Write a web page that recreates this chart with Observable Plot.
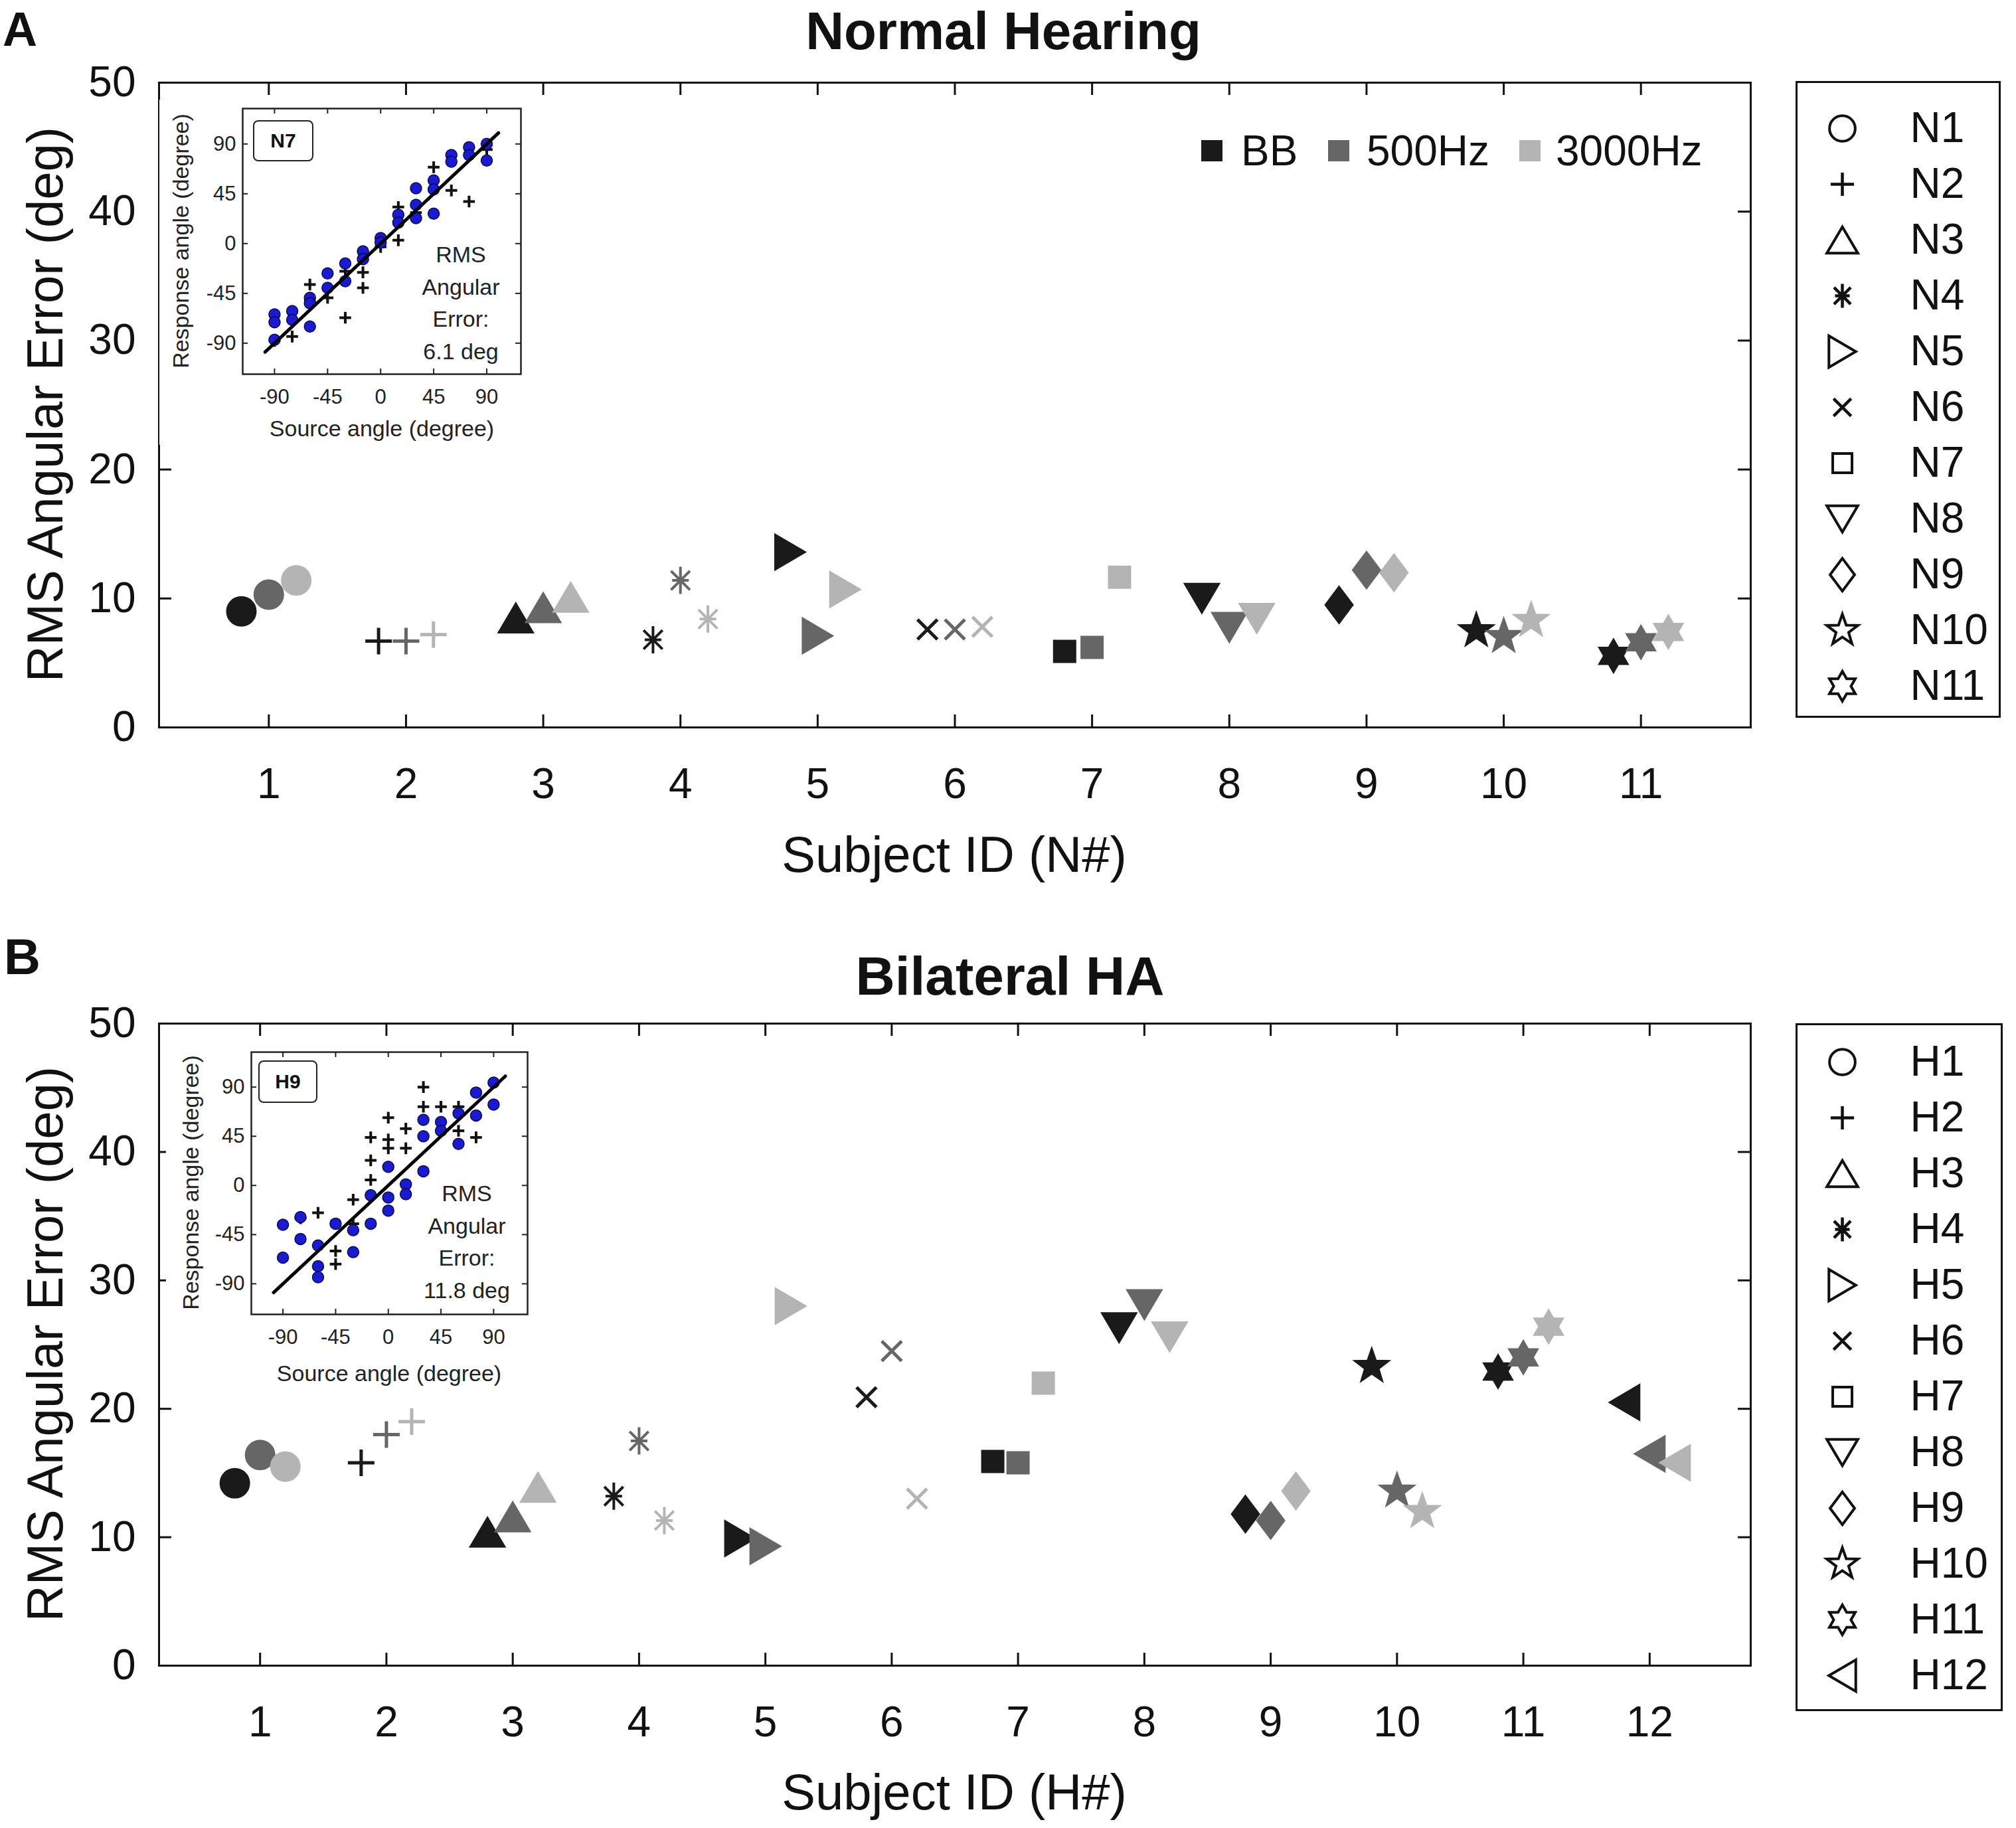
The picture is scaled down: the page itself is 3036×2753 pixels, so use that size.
<!DOCTYPE html>
<html><head><meta charset="utf-8">
<script src="https://cdn.jsdelivr.net/npm/d3@7"></script>
<script src="https://cdn.jsdelivr.net/npm/@observablehq/plot@0.6"></script>
<style>
html,body{margin:0;padding:0;background:#fff;}
#root{position:relative;width:3036px;height:2753px;overflow:hidden;background:#fff;font-family:"Liberation Sans",Arial,Helvetica,sans-serif;color:#111;}
</style></head><body><div id="root"></div>
<script>
// ---------- data ----------
const conditions = ["BB", "500Hz", "3000Hz"];
const conditionColors = ["#1a1a1a", "#666666", "#b4b4b4"];
const conditionOffsets = [-0.2, 0, 0.2];

const nhSubjects = ["N1","N2","N3","N4","N5","N6","N7","N8","N9","N10","N11"];
const nhBB    = [9.0, 6.7, 8.5, 6.8, 13.6, 7.6, 5.9, 10.0, 9.5, 7.5, 5.55];
const nh500   = [10.3, 6.7, 9.3, 11.4, 7.1, 7.6, 6.2, 7.75, 12.2, 7.05, 6.6];
const nh3000  = [11.4, 7.2, 10.1, 8.4, 10.7, 7.8, 11.65, 8.45, 12.0, 8.3, 7.4];

const haSubjects = ["H1","H2","H3","H4","H5","H6","H7","H8","H9","H10","H11","H12"];
const haBB    = [14.2, 15.8, 10.4, 13.2, 9.9, 20.9, 15.9, 26.3, 11.8, 23.3, 22.9, 20.5];
const ha500   = [16.4, 18.0, 11.6, 17.5, 9.3, 24.5, 15.8, 28.1, 11.3, 13.6, 24.0, 16.5];
const ha3000  = [15.5, 19.0, 13.9, 11.3, 28.0, 13.0, 22.0, 25.6, 13.6, 12.0, 26.4, 15.8];

const markerShapes = ["circle","plus","triangleUp","asterisk","triangleRight","times","square","triangleDown","diamond","pentagram","hexagram","triangleLeft"];
const yTicks = [0, 10, 20, 30, 40, 50];

// insets (source angle, response angle)
const insetTicks = [-90, -45, 0, 45, 90];
const diagSrc = [-98, 100];
const diagResp = [-98, 100];
const n7BlueSrc  = [-90,-90,-90,-75,-75,-60,-60,-60,-45,-45,-30,-30,-15,-15,0,0,15,15,30,30,30,45,45,45,60,60,75,75,90,90];
const n7BlueResp = [-64,-71,-87,-61,-69,-49,-54,-75,-27,-40,-18,-34,-7,-14,5,1,26,19,50,35,23,57,49,27,80,74,87,80,90,75];
const n7PlusSrc  = [-90,-75,-60,-60,-45,-30,-30,-15,-15,0,15,15,30,45,60,75,90];
const n7PlusResp = [-88,-84,-37,-52,-49,-67,-25,-40,-26,-3,3,33,28,69,48,38,85];
const h9BlueSrc  = [-90,-90,-75,-75,-60,-60,-60,-45,-30,-30,-15,-15,0,0,0,15,15,30,30,30,45,45,60,60,75,75,90,90];
const h9BlueResp = [-36,-66,-29,-49,-55,-74,-84,-35,-41,-61,-9,-35,17,-11,-23,1,-8,60,45,13,58,50,66,38,85,64,94,74];
const h9PlusSrc  = [30,0,-15,0,-15,-15,15,30,45,60,75,-60,-45,-45,-30,0,15,60,-75,-30];
const h9PlusResp = [90,62,44,42,23,5,52,72,72,72,44,-25,-60,-72,-13,34,34,50,-30,-35];

// ---------- helpers ----------
const root = document.getElementById("root");
const FONT = "Liberation Sans, Arial, Helvetica, sans-serif";
const plainNum = d => String(d);
function place(el, left, top) {
  el.style.position = "absolute"; el.style.left = left + "px"; el.style.top = top + "px";
  root.appendChild(el); return el;
}
function label(txt, x, y, {size = 64, weight = "normal", anchor = "middle", rotate = 0, color = "#111"} = {}) {
  const d = document.createElement("div");
  d.textContent = txt;
  Object.assign(d.style, {position: "absolute", left: x + "px", top: y + "px", fontSize: size + "px",
    fontWeight: weight, lineHeight: "1", whiteSpace: "nowrap", color, fontFamily: FONT});
  const tx = anchor === "middle" ? "-50%" : anchor === "end" ? "-100%" : "0";
  d.style.transform = `translate(${tx},-50%)` + (rotate ? ` rotate(${rotate}deg)` : "");
  root.appendChild(d); return d;
}
function poly(pts) {
  return {draw(ctx, size) {
    const u = Math.sqrt(size / Math.PI);
    ctx.moveTo(pts[0][0] * u, pts[0][1] * u);
    for (let i = 1; i < pts.length; i++) ctx.lineTo(pts[i][0] * u, pts[i][1] * u);
    ctx.closePath();
  }};
}
function segs(list) {
  return {draw(ctx, size) {
    const u = Math.sqrt(size / Math.PI);
    for (const [a, b, c, d] of list) { ctx.moveTo(a * u, b * u); ctx.lineTo(c * u, d * u); }
  }};
}
function star(n, outer, inner) {
  const pts = [];
  for (let k = 0; k < 2 * n; k++) {
    const a = -Math.PI / 2 + k * Math.PI / n, r = k % 2 ? inner : outer;
    pts.push([r * Math.cos(a), r * Math.sin(a)]);
  }
  return poly(pts);
}
const d45 = 0.57;
const shapeDefs = {
  circle: {draw(ctx, size) { const r = 0.88 * Math.sqrt(size / Math.PI); ctx.moveTo(r, 0); ctx.arc(0, 0, r, 0, 2 * Math.PI); }},
  square: poly([[-0.66,-0.66],[0.66,-0.66],[0.66,0.66],[-0.66,0.66]]),
  triangleUp: poly([[0,-0.9],[1.06,0.9],[-1.06,0.9]]),
  triangleDown: poly([[0,0.9],[1.06,-0.9],[-1.06,-0.9]]),
  triangleRight: poly([[0.92,0],[-0.92,-1.08],[-0.92,1.08]]),
  triangleLeft: poly([[-0.92,0],[0.92,-1.08],[0.92,1.08]]),
  diamond: poly([[0,-1.12],[0.84,0],[0,1.12],[-0.84,0]]),
  pentagram: star(5, 1.12, 0.45),
  hexagram: star(6, 1.02, 0.59),
  plus: segs([[0,-0.8,0,0.8],[-0.8,0,0.8,0]]),
  times: segs([[-0.6,-0.6,0.6,0.6],[-0.6,0.6,0.6,-0.6]]),
  asterisk: segs([[0,-0.82,0,0.82],[-d45,-d45,d45,d45],[-d45,d45,d45,-d45],[-0.5,0,0.5,0]])
};
const lineShapes = new Set(["plus", "times", "asterisk"]);

// ---------- main panels ----------
function panel({subjects, bb, f500, f3000, xDomain, top, height, mTop, mBottom}) {
  const mLeft = 239, mRight = 400, W = 3036;
  const frameW = W - mLeft - mRight, frameH = height - mTop - mBottom;
  const rows = [];
  subjects.forEach((s, i) => {
    [bb, f500, f3000].forEach((arr, j) => rows.push({subject: s, shape: markerShapes[i], x: i + 1 + conditionOffsets[j], value: arr[i], cond: conditions[j]}));
  });
  const xTicks = subjects.map((s, i) => i + 1);
  const tickLen = 19;
  const marks = [
    Plot.ruleX(xTicks, {x: d => d, insetTop: frameH - tickLen, stroke: "#111", strokeWidth: 3}),
    Plot.ruleX(xTicks, {x: d => d, insetBottom: frameH - tickLen, stroke: "#111", strokeWidth: 3}),
    Plot.ruleY(yTicks, {y: d => d, insetRight: frameW - tickLen, stroke: "#111", strokeWidth: 3}),
    Plot.ruleY(yTicks, {y: d => d, insetLeft: frameW - tickLen, stroke: "#111", strokeWidth: 3}),
    Plot.frame({stroke: "#111", strokeWidth: 3}),
    ...subjects.map((s, i) => {
      const shp = markerShapes[i];
      const isLine = lineShapes.has(shp);
      return Plot.dot(rows.filter(r => r.subject === s), {
        x: "x", y: "value", symbol: shapeDefs[shp], r: 25,
        fill: isLine ? "none" : "cond", stroke: "cond",
        strokeWidth: isLine ? (shp === "asterisk" ? 4 : 5) : 2
      });
    }),
    Plot.axisY(yTicks, {anchor: "left", tickSize: 0, tickPadding: 35, fontSize: 64, label: null, fill: "#111", tickFormat: plainNum}),
    Plot.axisX(xTicks, {anchor: "bottom", tickSize: 0, tickPadding: 61, fontSize: 64, label: null, fill: "#111", tickFormat: plainNum})
  ];
  const svg = Plot.plot({
    width: W, height, marginLeft: mLeft, marginRight: mRight, marginTop: mTop, marginBottom: mBottom,
    x: {domain: xDomain}, y: {domain: [0, 50]},
    color: {domain: conditions, range: conditionColors},
    style: {fontFamily: FONT, color: "#111", background: "transparent", overflow: "visible"},
    marks
  });
  place(svg, 0, top);
}

panel({subjects: nhSubjects, bb: nhBB, f500: nh500, f3000: nh3000, xDomain: [0.2, 11.8], top: 0, height: 1380, mTop: 124, mBottom: 285});
panel({subjects: haSubjects, bb: haBB, f500: ha500, f3000: ha3000, xDomain: [0.2, 12.8], top: 1400, height: 1353, mTop: 141, mBottom: 245});

// ---------- insets ----------
function inset({left, top, mL, mT, mB, blueSrc, blueResp, plusSrc, plusResp}) {
  const width = 560, height = 520, mR = 16;
  const fW = width - mL - mR, fH = height - mT - mB;
  const blue = blueSrc.map((s, i) => ({s, r: blueResp[i]}));
  const plus = plusSrc.map((s, i) => ({s, r: plusResp[i]}));
  const diag = diagSrc.map((s, i) => ({s, r: diagResp[i]}));
  const tl = 8;
  const svg = Plot.plot({
    width, height, marginLeft: mL, marginRight: mR, marginTop: mT, marginBottom: mB,
    x: {domain: [-117, 119]}, y: {domain: [-118, 122]},
    style: {fontFamily: FONT, color: "#222", background: "#fff", overflow: "visible"},
    marks: [
      Plot.ruleX(insetTicks, {x: d => d, insetTop: fH - tl, stroke: "#222", strokeWidth: 2}),
      Plot.ruleX(insetTicks, {x: d => d, insetBottom: fH - tl, stroke: "#222", strokeWidth: 2}),
      Plot.ruleY(insetTicks, {y: d => d, insetRight: fW - tl, stroke: "#222", strokeWidth: 2}),
      Plot.ruleY(insetTicks, {y: d => d, insetLeft: fW - tl, stroke: "#222", strokeWidth: 2}),
      Plot.frame({stroke: "#222", strokeWidth: 2.5}),
      Plot.dot(plus, {x: "s", y: "r", symbol: shapeDefs.plus, r: 11, stroke: "#111", strokeWidth: 4, fill: "none"}),
      Plot.dot(blue, {x: "s", y: "r", r: 8.5, fill: "#1a1ad2", stroke: "#0b0b40", strokeWidth: 1.5}),
      Plot.line(diag, {x: "s", y: "r", stroke: "#000", strokeWidth: 5}),
      Plot.axisX(insetTicks, {anchor: "bottom", tickSize: 0, tickPadding: 22, fontSize: 31, label: null, fill: "#222", tickFormat: plainNum}),
      Plot.axisY(insetTicks, {anchor: "left", tickSize: 0, tickPadding: 10, fontSize: 31, label: null, fill: "#222", tickFormat: plainNum})
    ]
  });
  place(svg, left, top);
}
inset({left: 240, top: 150, mL: 125, mT: 13, mB: 107, blueSrc: n7BlueSrc, blueResp: n7BlueResp, plusSrc: n7PlusSrc, plusResp: n7PlusResp});
inset({left: 250, top: 1570, mL: 128, mT: 14, mB: 111, blueSrc: h9BlueSrc, blueResp: h9BlueResp, plusSrc: h9PlusSrc, plusResp: h9PlusResp});

function insetBox(txt, left, top, w, h) {
  const d = document.createElement("div");
  d.textContent = txt;
  Object.assign(d.style, {position: "absolute", left: left + "px", top: top + "px", width: w + "px", height: h + "px",
    border: "2.5px solid #222", borderRadius: "8px", boxSizing: "border-box", fontFamily: FONT, fontWeight: "bold",
    fontSize: "30px", lineHeight: (h - 5) + "px", textAlign: "center", color: "#111", background: "#fff"});
  root.appendChild(d);
}
insetBox("N7", 381, 181, 91, 62);
insetBox("H9", 389, 1597, 89, 64);
label("Source angle (degree)", 575, 645, {size: 34, color: "#222"});
label("Response angle (degree)", 272, 363, {size: 34, rotate: -90, color: "#222"});
label("Source angle (degree)", 586, 2068, {size: 34, color: "#222"});
label("Response angle (degree)", 287, 1781, {size: 34, rotate: -90, color: "#222"});
["RMS", "Angular", "Error:", "6.1 deg"].forEach((t, i) => label(t, 694, 383 + i * 48.5, {size: 34, color: "#222"}));
["RMS", "Angular", "Error:", "11.8 deg"].forEach((t, i) => label(t, 703, 1797 + i * 48.5, {size: 34, color: "#222"}));

// ---------- marker legends ----------
function markerLegend(subjects, left, top, w, h, mT, mB) {
  const svg = Plot.plot({
    width: w, height: h, marginLeft: 0, marginRight: 0, marginTop: mT, marginBottom: mB,
    y: {type: "point", domain: subjects, padding: 0, axis: null},
    style: {fontFamily: FONT, color: "#111", background: "transparent", overflow: "visible"},
    marks: subjects.map((s, i) => Plot.dot([s], {y: d => d, frameAnchor: "left", dx: 70, symbol: shapeDefs[markerShapes[i]], r: 22,
      fill: "none", stroke: "#111", strokeWidth: lineShapes.has(markerShapes[i]) ? 4.5 : 4}))
      .concat([Plot.text(subjects, {y: d => d, text: d => d, frameAnchor: "left", dx: 172, textAnchor: "start", fontSize: 64, fill: "#111"})])
  });
  place(svg, left, top);
  const box = document.createElement("div");
  Object.assign(box.style, {position: "absolute", left: left + "px", top: top + "px", width: w + "px", height: h + "px",
    border: "3px solid #111", boxSizing: "border-box"});
  root.appendChild(box);
}
markerLegend(nhSubjects, 2704, 122, 309, 959, 70, 47);
markerLegend(haSubjects, 2704, 1541, 312, 1036, 54, 51);

// ---------- condition legend ----------
const condSquareX = [1809, 2000, 2288];
const condTextX = [1869, 2058, 2343];
conditions.forEach((c, i) => {
  const sq = document.createElement("div");
  Object.assign(sq.style, {position: "absolute", left: condSquareX[i] + "px", top: "211px", width: "32px", height: "32px", background: conditionColors[i]});
  root.appendChild(sq);
  label(c, condTextX[i], 227, {size: 64, anchor: "start"});
});

// ---------- titles and axis labels ----------
label("A", 4, 44, {size: 72, weight: "bold", anchor: "start"});
label("B", 6, 1441, {size: 76, weight: "bold", anchor: "start"});
label("Normal Hearing", 1511, 47, {size: 80, weight: "bold"});
label("Bilateral HA", 1521, 1470, {size: 82, weight: "bold"});
label("RMS Angular Error (deg)", 68, 609, {size: 76, rotate: -90});
label("RMS Angular Error (deg)", 68, 2024, {size: 76, rotate: -90});
label("Subject ID (N#)", 1437, 1287, {size: 76});
label("Subject ID (H#)", 1437, 2699, {size: 76});
</script></body></html>
